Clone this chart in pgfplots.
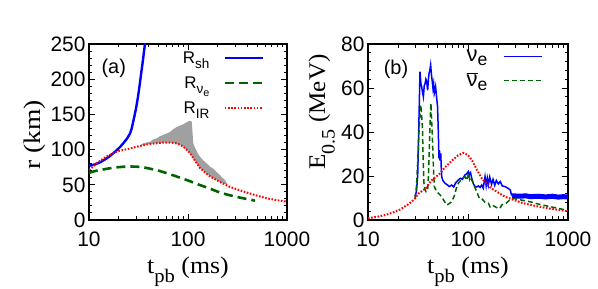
\documentclass[border=0pt]{standalone}
\usepackage{fontspec}
\setmainfont{Liberation Serif}
\setsansfont{Liberation Sans}
\usepackage{graphicx}
\usepackage{pgfplots}
\pgfplotsset{compat=1.18}
\definecolor{cblue}{RGB}{0,0,255}
\definecolor{cgreen}{RGB}{0,100,0}
\definecolor{cred}{RGB}{255,0,0}
\definecolor{cgray}{RGB}{160,160,160}
\newcommand{\sub}[2][-0.4em]{\raisebox{#1}{\scalebox{0.8}{#2}}}
\begin{document}
\begin{tikzpicture}
\path[use as bounding box] (0,0) rectangle (598bp,289bp);
% ---------------- panel (a)
\begin{axis}[
  scale only axis, width=198bp, height=176bp,
  xmode=log, xmin=10, xmax=1000,
  log ticks with fixed point,
  /pgf/number format/1000 sep={},
  tick align=inside,
  axis line style={line width=1.2bp},
  major tick length=6bp, minor tick length=3.5bp,
  tick style={black, line width=1bp},
  ticklabel style={font=\fontsize{21}{23}\sffamily},
  /pgf/number format/assume math mode=true,
  xticklabel shift=8bp, yticklabel shift=0bp,
  label style={font=\fontsize{24}{26}\selectfont},
  legend style={draw=none, fill=none, font=\fontsize{17}{18}\sffamily,
    legend cell align=right, row sep=8bp, inner sep=0pt,
    /tikz/every odd column/.append style={column sep=12bp}},
  legend plot pos=right,
  legend image code/.code={\draw[#1] (0bp,0bp) -- (38bp,0bp);},
  at={(89bp,69bp)}, anchor=south west,
  ymin=0, ymax=250, ytick={0,50,...,250}, minor y tick num=4,
  xlabel={\scalebox{1.08}[1]{t\sub{pb} (ms)}}, ylabel={\scalebox{1.15}[1]{r (km)}},
  xlabel style={at={(axis description cs:0.5,-0.303)}, anchor=base},
  ylabel style={at={(axis description cs:-0.247,0.483)}, anchor=base},
  legend style={at={(axis description cs:0.885,0.97)}, anchor=north east},
]
\addplot[fill=cgray, draw=none, forget plot] coordinates {
 (33,106) (35.3,109) (38,110) (41.3,111) (44,114) (48.3,116) (52,119) (56.4,121)
 (61,123) (65.8,125) (71,129) (76.9,132) (83,134) (89.8,136) (95,138) (100.7,140)
 (104,141) (109,140) (111,125) (113,109) (118,102) (125,95) (132,90) (142,85) (154,80.5)
 (166,76) (180,73) (195,68) (210,64) (222,60) (236,57) (250,51)
 (236,51) (210,54) (190,58) (167,62) (150,68) (132,74) (122,81) (113,88) (105,95) (97,100)
 (90,104) (83,107) (75,109) (66,110) (57,110) (48,109) (41,108) (35,106)
};
\addplot[cblue, line width=2.4bp] coordinates {
 (10,77) (11.5,79) (13,82) (14.5,86) (16,90) (17.5,94.5) (19,99) (20.7,104) (22.5,110) (24.3,116) (26,123)
 (27,130) (28,140) (29,150) (30,160) (31,172) (32,185) (33,199) (34,213) (35,226) (36,240) (37.5,260)
};
\addlegendentry{R\sub[-0.3em]{sh}}
\addplot[cgreen, line width=2.6bp, dash pattern=on 9bp off 5bp] coordinates {
 (10,67) (11.5,69.5) (13,71) (15.5,73) (18,74.5) (22,75.6) (26,76) (30,75.8) (35,75) (41,73)
 (48,71) (55,68.5) (66,65) (76,62) (90,58.5) (105,55) (130,50) (167,44.5) (210,39) (266,35)
 (330,32) (403,29.5) (475,27.5)
};
\addlegendentry{R\sub[-0.3em]{ν\sub[-0.25em]{e}}}
\addplot[cred, line width=2bp, dash pattern=on 1.6bp off 1.6bp] coordinates {
 (10,71) (11,76) (12.9,84) (15,90) (17,94) (19,97) (22,99.5) (26,101.5) (30,104) (35,106) (41,108)
 (48,109) (56,110) (66,110) (75,109) (83,107) (90,104) (97,100) (105,95) (113,88) (122,81) (132,74)
 (150,67) (167,62) (190,57.5) (210,54) (236,50.5) (266,47) (320,43) (392,39) (500,34.5) (617,31)
 (800,28) (1000,26)
};
\addlegendentry{R\sub[-0.3em]{IR}}
\node[font=\fontsize{20}{22}\sffamily, anchor=center] at (axis description cs:0.125,0.86) {(a)};
\end{axis}
% ---------------- panel (b)
\begin{axis}[
  scale only axis, width=200bp, height=176bp,
  xmode=log, xmin=10, xmax=1000,
  log ticks with fixed point,
  /pgf/number format/1000 sep={},
  tick align=inside,
  axis line style={line width=1.2bp},
  major tick length=6bp, minor tick length=3.5bp,
  tick style={black, line width=1bp},
  ticklabel style={font=\fontsize{21}{23}\sffamily},
  /pgf/number format/assume math mode=true,
  xticklabel shift=8bp, yticklabel shift=0bp,
  label style={font=\fontsize{24}{26}\selectfont},
  legend style={draw=none, fill=none, font=\fontsize{22}{24}\sffamily,
    legend cell align=right, row sep=6bp, inner sep=0pt,
    /tikz/every odd column/.append style={column sep=14bp}},
  legend plot pos=right,
  legend image code/.code={\draw[#1] (0bp,0bp) -- (38bp,0bp);},
  at={(368bp,69bp)}, anchor=south west,
  ymin=0, ymax=80, ytick={0,20,...,80}, minor y tick num=4,
  xlabel={\scalebox{1.08}[1]{t\sub{pb} (ms)}}, ylabel={\scalebox{1.05}[1]{E\sub{0.5} (MeV)}},
  xlabel style={at={(axis description cs:0.5,-0.303)}, anchor=base},
  ylabel style={at={(axis description cs:-0.215,0.614)}, anchor=base},
  legend style={at={(axis description cs:0.875,0.98)}, anchor=north east},
]
\addplot[cblue, line width=1.5bp] coordinates {
 (29.5,10.6) (30.5,13) (31.4,20) (32.3,45) (33.1,67.4) (33.8,62) (34.4,60.6) (35.1,58) (35.8,56)
 (36.5,61) (37.2,62) (37.9,64) (38.6,63) (39.5,59) (40.2,64) (40.8,66.7) (41.5,68) (42.3,70.5)
 (43.1,66) (43.9,63) (44.6,60) (45.3,62) (46,57.6) (46.7,59) (47.4,60.6) (48.5,56) (49.6,51.5)
 (50.5,40) (51.2,28) (51.8,31.8) (52.5,27) (53.4,30.3) (54,24) (54.6,19.7) (56,18) (58.9,16.7)
 (62,16) (65,15.2) (68.7,15.9) (72,15) (75,16.8) (80,18.2) (84,19) (88,18.5) (93.3,20.5) (97,21)
 (100.8,22) (103,20.5) (106,21.5) (109,19) (113,16.5) (117.5,15.2) (122,15) (127,15.5) (132,14.8)
 (137,15.9) (142,14.5) (148,19.7) (152,15.5) (156,19) (160,16) (165,19.5) (172,16.2) (178,18.5)
 (185,15.8) (192,18) (201,16.4) (210,17.5) (220,15.5) (234,15.2) (250,14.5) (265,13.6) (272,11.4)
 (290,11.5) (330,10.8) (380,11) (417,10.6) (500,10.8) (600,10.5) (700,10.8) (800,10.4) (891,10.6) (1000,10.5)
};
\addlegendentry{ν\sub[-0.2em]{e}}
\addplot[cblue, line width=5bp, forget plot] coordinates {
 (275,11) (330,10.8) (380,11) (417,10.6) (500,10.8) (600,10.5) (700,10.8) (800,10.4) (891,10.6) (1000,10.5)
};
\addplot[cgreen, line width=1.5bp, dash pattern=on 5bp off 3bp] coordinates {
 (29.5,9.8) (30.5,15) (31.8,31.8) (32.7,45) (33.7,52.3) (34.3,48) (35,42.4) (35.6,28) (36.3,16.7)
 (37.1,14) (38,12.9) (39.5,13.6) (40.2,20) (41,31.8) (41.8,45) (42.6,53) (43.2,46) (43.9,39.4)
 (45,25) (46,15.2) (48.6,12.9) (51,12) (54.6,10.6) (58,8.5) (61.4,6.8) (65,7.5) (68.7,8.3) (73,11)
 (76,14) (80,16.7) (86,18.5) (93.3,19.7) (97,18) (100.8,21.2) (104,18.5) (106,19.5) (113,16.7)
 (122,12.9) (130,9.8) (137,9.8) (148,8) (160,7.6) (166,6) (175,6.8) (187,6) (200,5.3) (209,5.3)
 (217,6.8) (230,7.5) (240,7.6) (260,9) (284,9.8) (330,9.2) (417,8.3) (500,7.3) (611,6.4) (800,5.3) (1000,4.3)
};
\addlegendentry{\ensuremath{\overline{\hbox{ν}}}\sub[-0.2em]{e}}
\addplot[cred, line width=2bp, dash pattern=on 1.6bp off 1.6bp, forget plot] coordinates {
 (10,0.8) (12.5,1.5) (15,2.3) (18,3.5) (21,4.8) (25,7) (29,9.3) (32,12) (38,14.5) (43,18) (52,21)
 (59,24) (71,27.5) (80,29.5) (90,30.5) (100,29.5) (110,27) (122,23) (137,19) (155,16) (172,14.3)
 (200,12.5) (234,10.6) (300,8.8) (358,7.6) (450,6.6) (611,5.4) (800,4.6) (1000,4)
};
\node[font=\fontsize{20}{22}\sffamily, anchor=center] at (axis description cs:0.14,0.855) {(b)};
\end{axis}
\end{tikzpicture}
\end{document}
